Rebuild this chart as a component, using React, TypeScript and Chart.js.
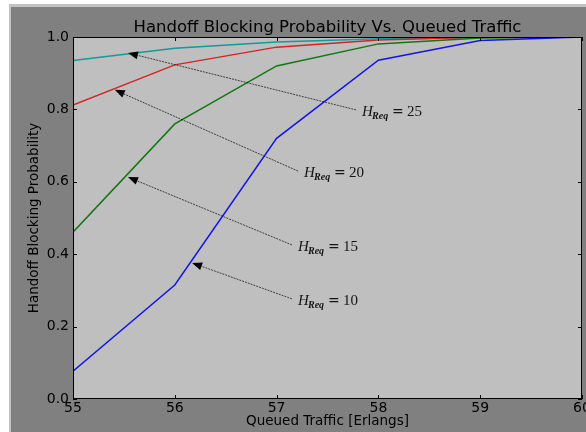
import React, { useEffect, useRef } from 'react';
import { Chart, registerables } from 'chart.js';

Chart.register(...registerables);

// ---------- data ----------
const xValues = [55, 56, 57, 58, 59, 60];
const h10 = [0.077, 0.315, 0.72, 0.936, 0.99, 1.0];
const h15 = [0.461, 0.76, 0.92, 0.981, 0.997, 1.0];
const h20 = [0.812, 0.923, 0.972, 0.992, 0.999, 1.0];
const h25 = [0.935, 0.969, 0.986, 0.995, 0.999, 1.0];

const seriesNames = ['H_Req = 10', 'H_Req = 15', 'H_Req = 20', 'H_Req = 25'];
const seriesColors = ['#1515e6', '#147514', '#d42424', '#139a9a'];

const yTicks = [0, 0.2, 0.4, 0.6, 0.8, 1.0];
const xTicks = [55, 56, 57, 58, 59, 60];

const titleText = 'Handoff Blocking Probability Vs. Queued Traffic';
const xTitle = 'Queued Traffic [Erlangs]';
const yTitle = 'Handoff Blocking Probability';

// annotations (H_Req values, arrow tip, text anchor)
const annValues = ['25', '20', '15', '10'];
const annTipX = [55.54, 55.41, 55.54, 56.17];
const annTipY = [0.956, 0.854, 0.613, 0.376];
const annTextX = [57.84, 57.27, 57.21, 57.21];
const annTextY = [0.782, 0.613, 0.409, 0.26];

const decorPlugin = {
  id: 'decor',
  beforeDraw(chart: any) {
    const { ctx, chartArea: a } = chart;
    ctx.save();
    ctx.fillStyle = '#bfbfbf';
    ctx.fillRect(a.left, a.top, a.right - a.left, a.bottom - a.top);
    ctx.restore();
  },
  afterDraw(chart: any) {
    const { ctx, chartArea: a } = chart;
    const xs = chart.scales.x;
    const ys = chart.scales.y;
    ctx.save();
    // frame
    ctx.strokeStyle = '#000';
    ctx.lineWidth = 1;
    ctx.strokeRect(a.left + 0.5, a.top + 0.5, a.right - a.left - 1, a.bottom - a.top - 1);
    // inward ticks on all sides
    ctx.beginPath();
    xTicks.forEach((v) => {
      const px = Math.round(xs.getPixelForValue(v)) + 0.5;
      ctx.moveTo(px, a.bottom);
      ctx.lineTo(px, a.bottom - 4);
      ctx.moveTo(px, a.top);
      ctx.lineTo(px, a.top + 4);
    });
    yTicks.forEach((v) => {
      const py = Math.round(ys.getPixelForValue(v)) + 0.5;
      ctx.moveTo(a.left, py);
      ctx.lineTo(a.left + 4, py);
      ctx.moveTo(a.right, py);
      ctx.lineTo(a.right - 4, py);
    });
    ctx.stroke();

    // annotations
    annValues.forEach((val, i) => {
      const hx = xs.getPixelForValue(annTipX[i]);
      const hy = ys.getPixelForValue(annTipY[i]);
      const tx = xs.getPixelForValue(annTextX[i]);
      const ty = ys.getPixelForValue(annTextY[i]);
      const sx = tx - 6;
      const sy = ty - 6;
      const ang = Math.atan2(hy - sy, hx - sx);
      const cos = Math.cos(ang);
      const sin = Math.sin(ang);
      const headLen = 10;
      const headW = 4;
      const bx = hx - cos * headLen;
      const by = hy - sin * headLen;
      ctx.save();
      ctx.strokeStyle = 'rgba(20,20,20,0.75)';
      ctx.lineWidth = 1;
      ctx.setLineDash([2, 1]);
      ctx.beginPath();
      ctx.moveTo(sx, sy);
      ctx.lineTo(bx, by);
      ctx.stroke();
      ctx.restore();
      ctx.fillStyle = '#000';
      ctx.beginPath();
      ctx.moveTo(hx, hy);
      ctx.lineTo(bx - sin * headW, by + cos * headW);
      ctx.lineTo(bx + sin * headW, by - cos * headW);
      ctx.closePath();
      ctx.fill();

      // text: H_{Req} = val
      ctx.fillStyle = '#141414';
      ctx.textBaseline = 'alphabetic';
      ctx.textAlign = 'left';
      ctx.font = 'italic 15px "Liberation Serif"';
      ctx.fillText('H', tx, ty);
      ctx.font = 'italic bold 10px "Liberation Serif"';
      ctx.fillText('Req', tx + 10, ty + 3);
      ctx.font = '14px "DejaVu Serif"';
      ctx.fillText('=', tx + 30, ty);
      ctx.font = '15px "Liberation Serif"';
      ctx.fillText(val, tx + 45, ty);
    });

    // title
    ctx.fillStyle = '#000';
    ctx.font = '16.5px "DejaVu Sans"';
    ctx.textAlign = 'center';
    ctx.textBaseline = 'alphabetic';
    ctx.fillText(titleText, (a.left + a.right) / 2, 24.5);
    ctx.restore();
  },
};

export default function App() {
  const canvasRef = useRef<HTMLCanvasElement | null>(null);

  useEffect(() => {
    const canvas = canvasRef.current;
    if (!canvas) return;
    const series = [h10, h15, h20, h25];
    const chart = new Chart(canvas, {
      type: 'line',
      data: {
        datasets: series.map((s, i) => ({
          label: seriesNames[i],
          data: xValues.map((x, j) => ({ x, y: s[j] })),
          borderColor: seriesColors[i],
          backgroundColor: seriesColors[i],
          borderWidth: 1.5,
          pointRadius: 0,
          tension: 0,
          fill: false,
        })),
      },
      options: {
        animation: false,
        responsive: false,
        devicePixelRatio: 1,
        layout: { padding: { top: 30, right: 29, left: 0, bottom: 0 } },
        plugins: {
          legend: { display: false },
          tooltip: { enabled: false },
          title: { display: false },
        },
        scales: {
          x: {
            type: 'linear',
            min: 55,
            max: 60,
            afterFit: (s: any) => {
              s.height = 33;
            },
            afterBuildTicks: (s: any) => {
              s.ticks = xTicks.map((v) => ({ value: v }));
            },
            ticks: {
              padding: 1,
              color: '#000',
              font: { family: 'DejaVu Sans', size: 14 },
              callback: (v: any) => String(v),
              maxRotation: 0,
            },
            grid: { display: false, drawTicks: false },
            border: { display: false },
            title: {
              display: true,
              text: xTitle,
              color: '#000',
              font: { family: 'DejaVu Sans', size: 13.5 },
              padding: { top: 0, bottom: 2 },
            },
          },
          y: {
            type: 'linear',
            min: 0,
            max: 1,
            afterFit: (s: any) => {
              s.width = 62;
            },
            afterBuildTicks: (s: any) => {
              s.ticks = yTicks.map((v) => ({ value: v }));
            },
            ticks: {
              padding: 4,
              color: '#000',
              font: { family: 'DejaVu Sans', size: 14 },
              callback: (v: any) => Number(v).toFixed(1),
            },
            grid: { display: false, drawTicks: false },
            border: { display: false },
            title: {
              display: true,
              text: yTitle,
              color: '#000',
              font: { family: 'DejaVu Sans', size: 13.5 },
              padding: { top: 15, bottom: 0 },
            },
          },
        },
      },
      plugins: [decorPlugin],
    });
    return () => chart.destroy();
  }, []);

  return (
    <>
      <style>{`body{margin:0;overflow:hidden;background:#fff}`}</style>
      <div
        style={{
          position: 'absolute',
          left: 9,
          top: 4,
          borderLeft: '2px solid #c2c2c2',
          borderTop: '3px solid #c2c2c2',
          background: '#808080',
          width: 600,
          height: 425,
        }}
      >
        <canvas ref={canvasRef} width={600} height={425} style={{ display: 'block' }} />
      </div>
    </>
  );
}
